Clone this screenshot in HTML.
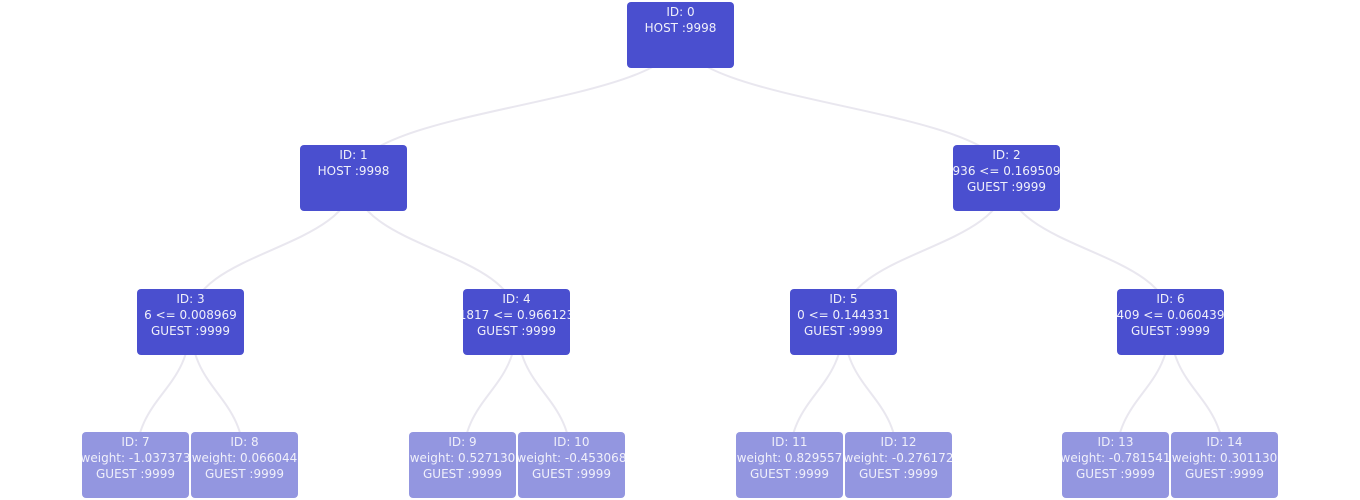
<!DOCTYPE html>
<html><head><meta charset="utf-8"><style>
body{margin:0;width:1360px;height:500px;background:#fff;position:relative;overflow:hidden;font-family:"DejaVu Sans","Liberation Sans",sans-serif;}
svg{position:absolute;left:0;top:0}
.n{position:absolute;width:107px;height:66px;border-radius:4px;background:#4a4fcf;color:#f0f0fa;font-size:12px;line-height:16px;padding-top:2px;box-sizing:border-box;overflow:hidden}
.l{background:#9396e0}
.n div{display:flex;justify-content:center;white-space:nowrap}
</style></head><body>
<svg width="1360" height="500" fill="none" stroke="#e9e7ef" stroke-width="2">
<path d="M680 35 C680 106 353.5 106 353.5 178"/>
<path d="M680 35 C680 106 1006.5 106 1006.5 178"/>
<path d="M353.5 178 C353.5 250 190.5 250 190.5 321"/>
<path d="M353.5 178 C353.5 250 517 250 517 321"/>
<path d="M1006.5 178 C1006.5 250 843.5 250 843.5 321"/>
<path d="M1006.5 178 C1006.5 250 1170 250 1170 321"/>
<path d="M190.5 321 C190.5 393 135.5 393 135.5 465"/>
<path d="M190.5 321 C190.5 393 244.5 393 244.5 465"/>
<path d="M517 321 C517 393 462.5 393 462.5 465"/>
<path d="M517 321 C517 393 571.5 393 571.5 465"/>
<path d="M843.5 321 C843.5 393 789 393 789 465"/>
<path d="M843.5 321 C843.5 393 898 393 898 465"/>
<path d="M1170 321 C1170 393 1115.5 393 1115.5 465"/>
<path d="M1170 321 C1170 393 1224.5 393 1224.5 465"/>
</svg>
<div class="n" style="left:627px;top:2px"><div>ID: 0</div><div>HOST :9998</div></div>
<div class="n" style="left:300px;top:145px"><div>ID: 1</div><div>HOST :9998</div></div>
<div class="n" style="left:953px;top:145px"><div>ID: 2</div><div>936 &lt;= 0.169509</div><div>GUEST :9999</div></div>
<div class="n" style="left:137px;top:289px"><div>ID: 3</div><div>6 &lt;= 0.008969</div><div>GUEST :9999</div></div>
<div class="n" style="left:463px;top:289px"><div>ID: 4</div><div>1817 &lt;= 0.966123</div><div>GUEST :9999</div></div>
<div class="n" style="left:790px;top:289px"><div>ID: 5</div><div>0 &lt;= 0.144331</div><div>GUEST :9999</div></div>
<div class="n" style="left:1117px;top:289px"><div>ID: 6</div><div>409 &lt;= 0.060439</div><div>GUEST :9999</div></div>
<div class="n l" style="left:82px;top:432px"><div>ID: 7</div><div>weight: -1.037373</div><div>GUEST :9999</div></div>
<div class="n l" style="left:191px;top:432px"><div>ID: 8</div><div>weight: 0.066044</div><div>GUEST :9999</div></div>
<div class="n l" style="left:409px;top:432px"><div>ID: 9</div><div>weight: 0.527130</div><div>GUEST :9999</div></div>
<div class="n l" style="left:518px;top:432px"><div>ID: 10</div><div>weight: -0.453068</div><div>GUEST :9999</div></div>
<div class="n l" style="left:736px;top:432px"><div>ID: 11</div><div>weight: 0.829557</div><div>GUEST :9999</div></div>
<div class="n l" style="left:845px;top:432px"><div>ID: 12</div><div>weight: -0.276172</div><div>GUEST :9999</div></div>
<div class="n l" style="left:1062px;top:432px"><div>ID: 13</div><div>weight: -0.781541</div><div>GUEST :9999</div></div>
<div class="n l" style="left:1171px;top:432px"><div>ID: 14</div><div>weight: 0.301130</div><div>GUEST :9999</div></div>
</body></html>
